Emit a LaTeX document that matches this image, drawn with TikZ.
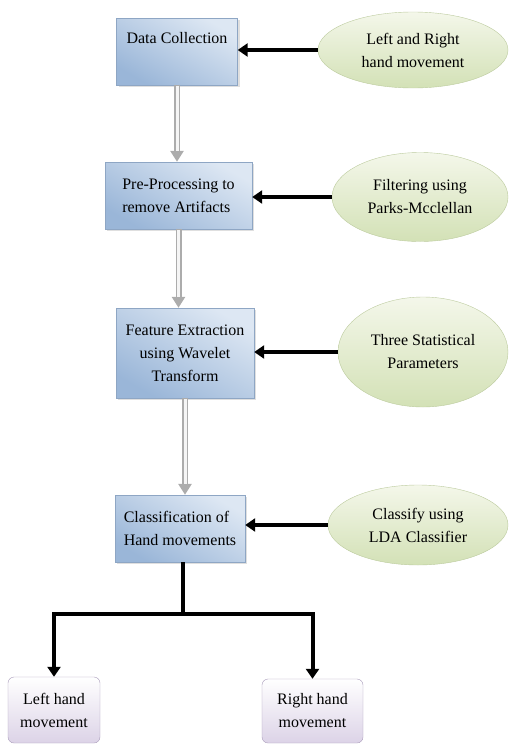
\documentclass[tikz,border=0pt]{standalone}
\usepackage{fontspec}
\setmainfont{Liberation Serif}
\usetikzlibrary{arrows.meta, shapes.geometric, shadows}

\definecolor{boxtop}{HTML}{DDE7F3}
\definecolor{boxbot}{HTML}{9AB6D8}
\definecolor{boxline}{HTML}{8EA6C4}
\definecolor{elltop}{HTML}{F4F7EA}
\definecolor{ellbot}{HTML}{D3E1B6}
\definecolor{ellline}{HTML}{BCCB9E}
\definecolor{outtop}{HTML}{FFFFFF}
\definecolor{outbot}{HTML}{DCD3E7}
\definecolor{outline}{HTML}{A89BBA}

\tikzset{
  stage/.style={draw=boxline, thin, top color=boxtop, bottom color=boxbot,
    shading angle=-30, drop shadow={shadow xshift=2pt, shadow yshift=-2pt, opacity=.25},
    font=\fontsize{16}{23}\selectfont},
  input/.style={ellipse, draw=ellline, thin, top color=elltop, bottom color=ellbot,
    inner sep=0pt, align=center, font=\fontsize{16}{23}\selectfont},
  result/.style={draw=outline, thin, rounded corners=6pt, top color=outtop, bottom color=outbot,
    inner sep=0pt, align=center, font=\fontsize{16}{23}\selectfont},
  feed/.style={line width=4pt, -{Triangle[length=10pt, width=13pt]}},
  hollow/.style={draw=gray!65, line width=6pt, -{Triangle[length=11pt, width=13pt]},
    postaction={draw=gray!8, line width=3pt, shorten >=11pt, shorten <=0.8pt, -}},
}

\begin{document}
\begin{tikzpicture}[x=1pt, y=-1pt]
  \useasboundingbox (0,0) rectangle (510,744);

  % processing stages
  \node[stage, minimum width=121pt, inner sep=0pt, text height=25pt, text depth=42pt]
    (dc) at (177,51.5) {Data Collection};
  \node[stage, minimum width=147pt, minimum height=67pt, align=left]
    (pre) at (178.5,195.5) {Pre-Processing to\\remove Artifacts};
  \node[stage, minimum width=138pt, minimum height=90pt, align=center, inner sep=0pt]
    (feat) at (185,353) {Feature Extraction\\using Wavelet\\Transform};
  \node[stage, minimum width=130pt, minimum height=67pt, align=left]
    (cls) at (180,528.5) {Classification of\\Hand movements};

  % side inputs
  \node[input, minimum width=190pt, minimum height=76pt] (lr) at (413,50) {Left and Right\\hand movement};
  \node[input, minimum width=176pt, minimum height=89pt] (pm) at (420,197) {Filtering using\\Parks-Mcclellan};
  \node[input, minimum width=170pt, minimum height=110pt] (ts) at (423,352) {Three Statistical\\Parameters};
  \node[input, minimum width=180pt, minimum height=80pt] (lda) at (418,525) {Classify using\\LDA Classifier};

  % outcomes
  \node[result, minimum width=92pt, minimum height=66pt] (lh) at (54,710) {Left hand\\movement};
  \node[result, minimum width=101pt, minimum height=64pt] (rh) at (312.5,711) {Right hand\\movement};

  % arrows from the inputs
  \draw[feed] (lr) -- (dc.east |- lr);
  \draw[feed] (pm) -- (pre.east |- pm);
  \draw[feed] (ts) -- (feat.east |- ts);
  \draw[feed] (lda) -- (cls.east |- lda);

  % flow between stages
  \draw[hollow] (dc.south) -- (dc.south |- pre.north);
  \draw[hollow] (pre.south) -- (pre.south |- feat.north);
  \draw[hollow] (feat.south) -- (feat.south |- cls.north);

  % split to outcomes
  \coordinate (j) at (183,614);
  \draw[line width=4pt] (cls.south -| j) -- (j);
  \draw[feed] (j) -| (lh.north);
  \draw[feed] (j) -| (rh.north);
\end{tikzpicture}
\end{document}
